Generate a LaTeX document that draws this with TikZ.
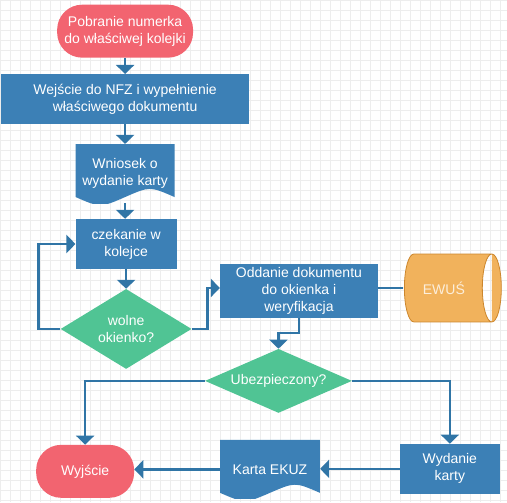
\documentclass[tikz,border=0pt]{standalone}
\usepackage{fontspec}
\setmainfont{Liberation Sans}
\usetikzlibrary{arrows.meta,positioning,calc,shapes.geometric}
\definecolor{boxblue}{RGB}{60,128,182}
\definecolor{lineblue}{RGB}{48,117,166}
\definecolor{termred}{RGB}{242,100,112}
\definecolor{decgreen}{RGB}{80,196,148}
\definecolor{dbfill}{RGB}{241,178,92}
\definecolor{dbline}{RGB}{204,134,44}

\begin{document}
\begin{tikzpicture}[x=1pt,y=1pt,>={Triangle[width=18pt,length=9pt]},
  every node/.style={text=white,font=\fontsize{14}{17}\selectfont,align=center,inner sep=0pt},
  term/.style={rectangle,rounded corners=25pt,fill=termred},
  proc/.style={rectangle,fill=boxblue},
  dec/.style={diamond,fill=decgreen},
  docu/.style={rectangle,path picture={\fill[boxblue] let \p1=(path picture bounding box.south west),\p2=(path picture bounding box.north east) in
    (\x1,\y2) -- (\x2,\y2) -- (\x2,\y1+6pt) .. controls ({0.25*\x1+0.75*\x2},\y1+16.8pt) .. ({0.5*\x1+0.5*\x2},\y1+6pt)
    .. controls ({0.75*\x1+0.25*\x2},\y1-4.8pt) .. (\x1,\y1+6pt) -- cycle;}},
  drum/.style={rectangle,text=white!78!dbfill,path picture={\filldraw[fill=dbfill,draw=dbline,line width=0.8pt]
    let \p1=(path picture bounding box.south west),\p2=(path picture bounding box.north east) in
    (\x1+10.5pt,\y2-1pt) -- (\x2-10.5pt,\y2-1pt) arc[start angle=90,end angle=-90,x radius=9.5pt,y radius=34pt]
    -- (\x1+10.5pt,\y1+1pt) arc[start angle=270,end angle=90,x radius=9.5pt,y radius=34pt] -- cycle
    (\x2-10.5pt,\y2-1pt) arc[start angle=90,end angle=270,x radius=9.5pt,y radius=34pt];}},
  conn/.style={draw=lineblue,line width=2.6pt}]
\fill[white] (0,0) rectangle (507,-502);
\draw[black!7,line width=0.4pt] (0,0) grid[step=10] (507,-502);
\useasboundingbox (0,0) rectangle (507,-502);

\node[term,minimum width=136pt,minimum height=53pt] (start) at (125,-31) {Pobranie numerka\\do właściwej kolejki};
\node[proc,minimum width=248pt,minimum height=50pt] (nfz) at (125,-99) {Wejście do NFZ i wypełnienie\\właściwego dokumentu};
\node[docu,minimum width=99pt,minimum height=59pt] (wniosek) at (125,-173.5) {Wniosek o\\wydanie karty};
\node[proc,minimum width=101pt,minimum height=50pt] (queue) at (126,-244) {czekanie w\\kolejce};
\node[dec,minimum width=131pt,minimum height=80pt,aspect=1.64] (free) at (126,-329) {wolne\\okienko?};
\node[proc,minimum width=158pt,minimum height=54pt] (submit) at (299,-291) {Oddanie dokumentu\\do okienka i\\weryfikacja};
\node[drum,minimum width=99pt,minimum height=70pt] (ewus) at (453,-288) {\hspace*{-18pt}EWUŚ};
\node[dec,minimum width=147pt,minimum height=64pt,aspect=2.3] (insured) at (278.5,-381) {Ubezpieczony?};
\node[term,minimum width=98pt,minimum height=53pt] (exit) at (85,-471.5) {Wyjście};
\node[docu,minimum width=100pt,minimum height=59pt] (ekuz) at (270,-469.5) {Karta EKUZ};
\node[proc,minimum width=100pt,minimum height=50pt] (issue) at (450,-469) {Wydanie\\karty};

\draw[conn,->] (start) -- (nfz);
\draw[conn,->] (nfz) -- (wniosek);
\draw[conn,->] (wniosek.south) -- (queue.north -| wniosek.south);
\draw[conn,->] (queue) -- (free);
\draw[conn,->] (free.west) -- ++(-22,0) |- (queue.west);
\draw[conn,->] (free.east) -- ++(16,0) |- ($(submit.west)+(0,3)$);
\draw[conn] (ewus.west) -- (ewus.west -| submit.east);
\draw[conn,->] (submit.south) -- ++(0,-15) -| (insured.north);
\draw[conn,->] (insured.west) -| (exit.north);
\draw[conn,->] (insured.east) -| (issue.north);
\draw[conn,->] (issue.west) -- (issue.west -| ekuz.east);
\draw[conn,->] (ekuz.west) -- (ekuz.west -| exit.east);
\end{tikzpicture}
\end{document}
